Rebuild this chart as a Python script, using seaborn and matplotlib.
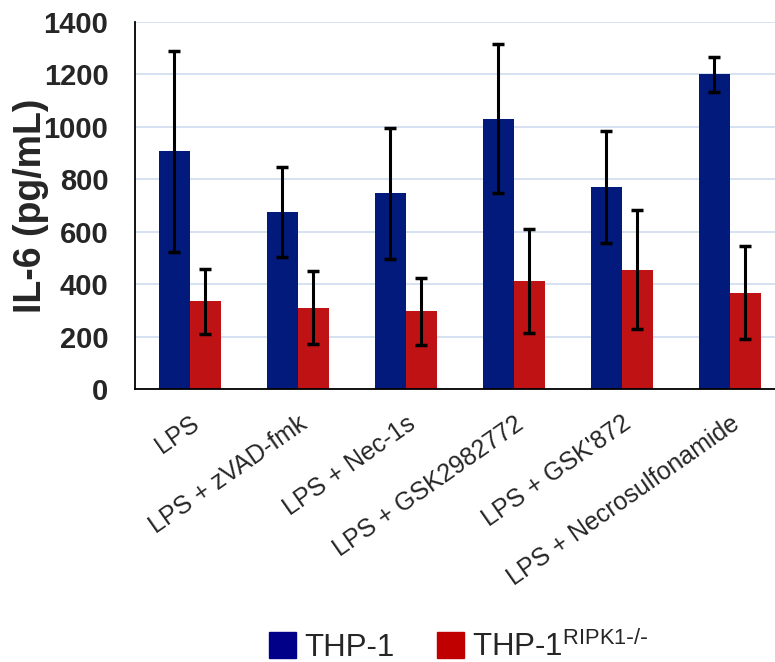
import matplotlib
matplotlib.use("Agg")
import matplotlib.pyplot as plt
from matplotlib.patches import Patch
import pandas as pd
import numpy as np
import seaborn as sns

sns.set_theme(style="white")
plt.rcParams["font.family"] = ["Liberation Sans", "DejaVu Sans"]
plt.rcParams["mathtext.default"] = "regular"

conditions = ["LPS", "LPS + zVAD-fmk", "LPS + Nec-1s", "LPS + GSK2982772",
              "LPS + GSK'872", "LPS + Necrosulfonamide"]
cell_lines = ["THP-1", "THP-1 RIPK1-/-"]
thp1_mean = [906, 675, 746, 1031, 771, 1200]
thp1_sd = [383, 172, 249, 283, 213, 67]
ko_mean = [335, 311, 297, 413, 456, 367]
ko_sd = [125, 140, 128, 199, 226, 177]

blue = "#021A7B"
red = "#BE1214"

df = pd.DataFrame({
    "condition": conditions * 2,
    "line": [cell_lines[0]] * 6 + [cell_lines[1]] * 6,
    "il6": thp1_mean + ko_mean,
})

fig = plt.figure(figsize=(7.75, 6.62), dpi=100)
ax = fig.add_axes([0.174, 0.412, 0.826, 0.555])

sns.barplot(data=df, x="condition", y="il6", hue="line", order=conditions,
            hue_order=cell_lines, palette=[blue, red], width=0.574,
            errorbar=None, legend=False, linewidth=0, saturation=1, ax=ax)

# error bars at the bar centres
for cont, sd in zip(ax.containers, [thp1_sd, ko_sd]):
    xs = [b.get_x() + b.get_width() / 2 for b in cont]
    ys = [b.get_height() for b in cont]
    ax.errorbar(xs, ys, yerr=sd, fmt="none", ecolor="black",
                elinewidth=2.2, capsize=4, capthick=2.5, zorder=5)

ax.set_ylim(0, 1400)
ax.set_xlim(-0.51, 5.42)
ax.set_yticks(np.arange(0, 1401, 200))
ax.yaxis.grid(True, color="#D5E1F2", linewidth=1.4)
ax.set_axisbelow(True)
for s in ["top", "right"]:
    ax.spines[s].set_visible(False)
for s in ["left", "bottom"]:
    ax.spines[s].set_color("black")
    ax.spines[s].set_linewidth(1.3)

ax.tick_params(axis="y", length=0, pad=19, labelsize=21)
for t in ax.get_yticklabels():
    t.set_fontweight("bold")
ax.tick_params(axis="x", length=0, pad=16, labelsize=18)
ax.set_xticks(range(len(conditions)))
ax.set_xticklabels(conditions, rotation=35, ha="right", va="top",
                   rotation_mode="anchor")
ax.set_xlabel("")
ax.set_ylabel("IL-6 (pg/mL)", fontsize=27, fontweight="bold")
ax.yaxis.set_label_coords(-0.134, 0.5)

handles = [Patch(color="#000088"), Patch(color="#C00000")]
labels = ["THP-1", "THP-1$^{RIPK1\\text{-}/\\text{-}}$"]
fig.legend(handles, labels, loc="center", bbox_to_anchor=(0.592, 0.023),
           ncol=2, frameon=False, fontsize=22.5, handlelength=0.86,
           handleheight=0.86, handletextpad=0.26, columnspacing=1.38,
           borderpad=0, borderaxespad=0)

fig.savefig("out.png", dpi=100)
